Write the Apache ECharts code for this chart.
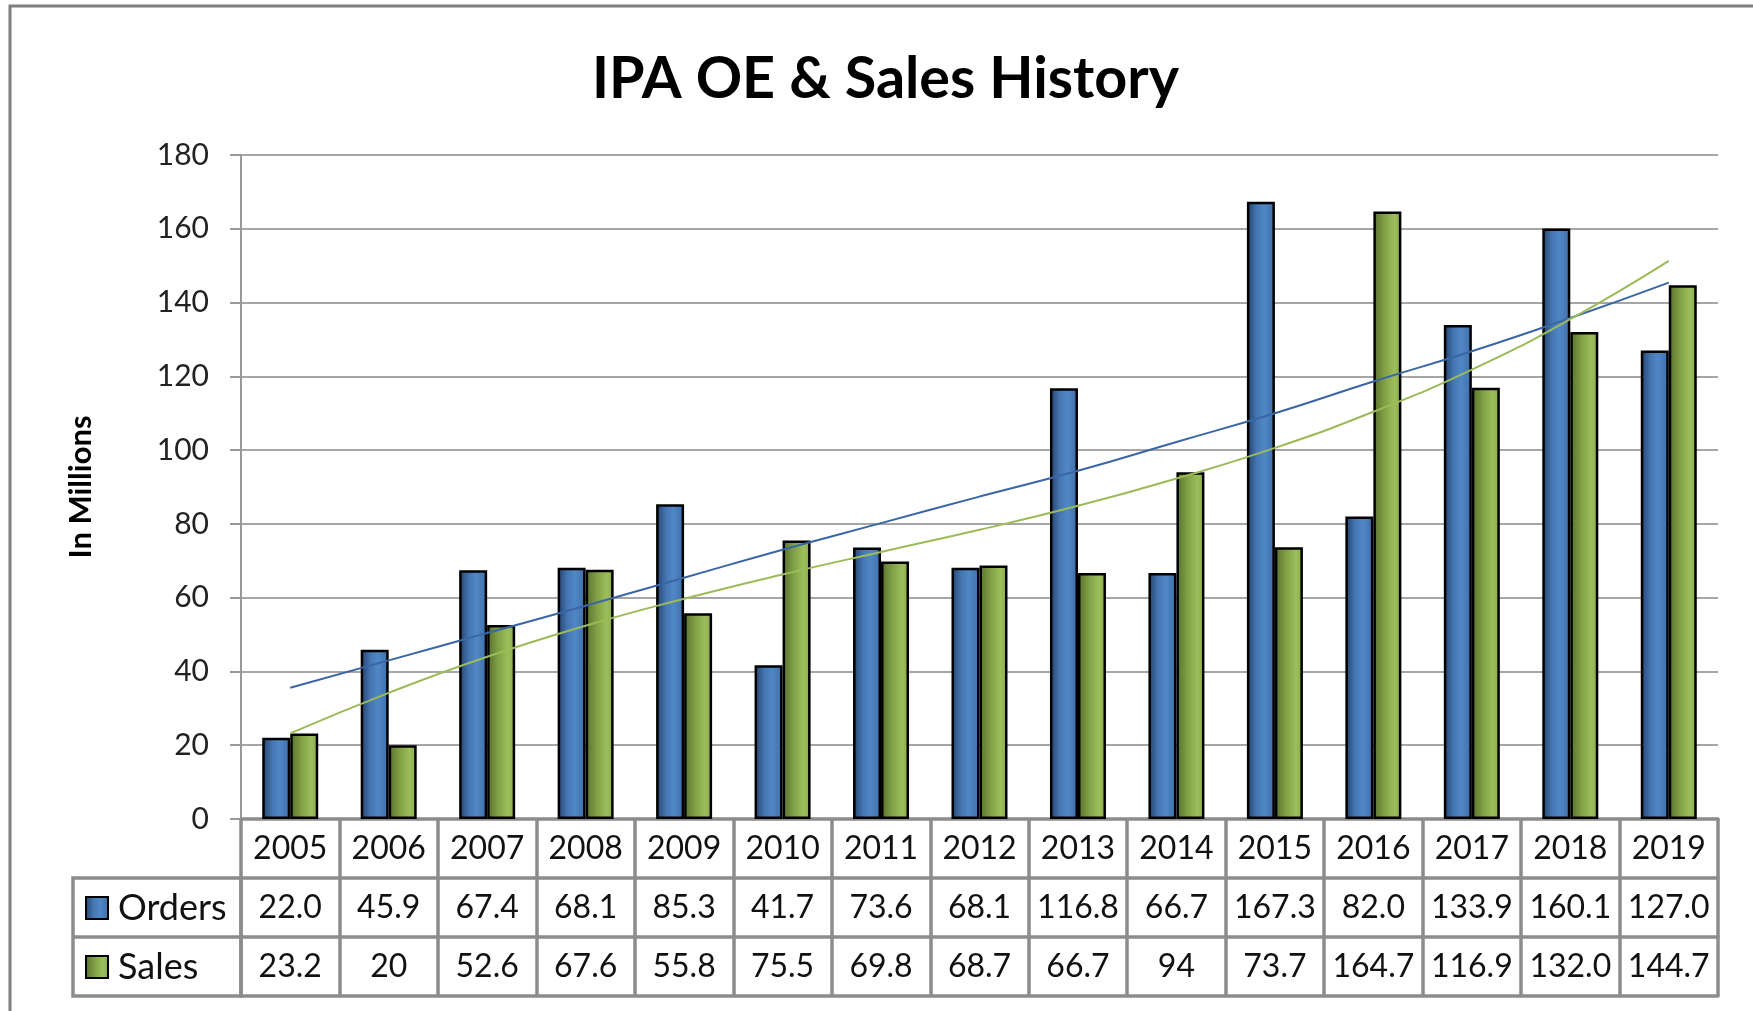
<!DOCTYPE html>
<html>
<head>
    <meta charset="utf-8">
    <title>IPA OE & Sales History</title>
    <script src="https://cdn.jsdelivr.net/npm/echarts@6/dist/echarts.min.js"></script>
    <style>
        html, body { margin: 0; padding: 0; background: #fff; }
    </style>
</head>
<body>
    <div id="main" style="width:1753px; height:1011px;"></div>
    <script>
        // data
        var years = ['2005', '2006', '2007', '2008', '2009', '2010', '2011', '2012', '2013', '2014', '2015', '2016', '2017', '2018', '2019']
        var orders = [22.0, 45.9, 67.4, 68.1, 85.3, 41.7, 73.6, 68.1, 116.8, 66.7, 167.3, 82.0, 133.9, 160.1, 127.0]
        var sales = [23.2, 20, 52.6, 67.6, 55.8, 75.5, 69.8, 68.7, 66.7, 94, 73.7, 164.7, 116.9, 132.0, 144.7]
        // table cell texts, as printed in the data table
        var ordersText = ['22.0', '45.9', '67.4', '68.1', '85.3', '41.7', '73.6', '68.1', '116.8', '66.7', '167.3', '82.0', '133.9', '160.1', '127.0']
        var salesText = ['23.2', '20', '52.6', '67.6', '55.8', '75.5', '69.8', '68.7', '66.7', '94', '73.7', '164.7', '116.9', '132.0', '144.7']
        // trend lines, read at each year
        var ordersTrend = [35.6, 43.0, 50.4, 57.8, 65.4, 73.0, 80.2, 87.4, 94.4, 102.2, 110.0, 118.6, 126.8, 135.8, 145.4]
        var salesTrend = [23.2, 34.2, 44.0, 52.4, 59.7, 66.3, 72.4, 78.4, 84.9, 92.3, 100.6, 110.4, 121.8, 135.5, 151.3]
        var yTicks = {min: 0, max: 180, interval: 20}

        var font = 'Lato'
        var tableGray = '#8c8c8c'
        var rowH = 59

        var blueFill = {
            type: 'linear', x: 0, y: 0, x2: 1, y2: 0,
            colorStops: [
                {offset: 0, color: '#23416a'},
                {offset: 0.35, color: '#4576b2'},
                {offset: 0.62, color: '#5087c6'},
                {offset: 1, color: '#3e6da7'}
            ]
        }
        var greenFill = {
            type: 'linear', x: 0, y: 0, x2: 1, y2: 0,
            colorStops: [
                {offset: 0, color: '#56702c'},
                {offset: 0.4, color: '#82a046'},
                {offset: 0.75, color: '#9dbe5c'},
                {offset: 1, color: '#8aa94b'}
            ]
        }

        var tableAxis = function(data, offset) {
            return {
                type: 'category',
                data: data,
                position: 'bottom',
                offset: offset,
                axisLine: {show: true, lineStyle: {color: tableGray, width: 3.5}},
                axisTick: {show: true, interval: 0, length: rowH, lineStyle: {color: tableGray, width: 3.5}},
                axisLabel: {
                    show: true, interval: 0, margin: rowH / 2, verticalAlign: 'middle',
                    fontFamily: font, fontSize: 32, color: '#111'
                },
                splitLine: {show: false}
            }
        }

        var legendRow = function(name, top) {
            return {
                data: [name], left: 85, top: top, icon: 'rect',
                itemWidth: 22, itemHeight: 22, padding: 0,
                textStyle: {fontFamily: font, fontSize: 36, color: '#111', padding: [0, 0, 0, 5]}
            }
        }

        var element = document.querySelector('#main')
        var myChart = echarts.init(element)

        var option = {
            backgroundColor: '#fff',
            animation: false,
            title: {
                text: 'IPA OE & Sales History',
                left: 592,
                top: 50,
                padding: 0,
                textStyle: {fontFamily: font, fontWeight: 'bold', fontSize: 57.5, color: '#000'}
            },
            legend: [
                legendRow('Orders', 890),
                legendRow('Sales', 949)
            ],
            grid: {left: 241, right: 35, top: 155, bottom: 192, containLabel: false, outerBoundsMode: 'none'},
            xAxis: [
                tableAxis(years, 0),
                tableAxis(ordersText, rowH),
                tableAxis(salesText, rowH * 2),
                {
                    type: 'category', data: years, position: 'bottom', offset: rowH * 3,
                    axisLine: {show: true, lineStyle: {color: tableGray, width: 3.5}},
                    axisTick: {show: false}, axisLabel: {show: false}, splitLine: {show: false}
                }
            ],
            yAxis: {
                type: 'value',
                min: yTicks.min, max: yTicks.max, interval: yTicks.interval,
                name: 'In Millions',
                nameLocation: 'middle',
                nameRotate: 90,
                nameGap: 145,
                nameTextStyle: {fontFamily: font, fontWeight: 'bold', fontSize: 31, color: '#000'},
                axisLine: {show: true, lineStyle: {color: '#999', width: 2}},
                axisTick: {show: true, length: 11, lineStyle: {color: '#999', width: 2}},
                axisLabel: {fontFamily: font, fontSize: 30, color: '#222', margin: 32},
                splitLine: {show: true, lineStyle: {color: '#a6a6a6', width: 2}}
            },
            series: [
                {
                    name: 'Orders', type: 'bar', data: orders, xAxisIndex: 0,
                    barWidth: 28, barGap: '0%',
                    itemStyle: {color: blueFill, borderColor: '#000', borderWidth: 2.5}
                },
                {
                    name: 'Sales', type: 'bar', data: sales, xAxisIndex: 0,
                    barWidth: 28, barGap: '0%',
                    itemStyle: {color: greenFill, borderColor: '#000', borderWidth: 2.5}
                },
                {
                    name: 'Orders trend', type: 'line', data: ordersTrend, xAxisIndex: 0,
                    symbol: 'none', smooth: true, z: 5,
                    lineStyle: {color: '#3a66a6', width: 2}
                },
                {
                    name: 'Sales trend', type: 'line', data: salesTrend, xAxisIndex: 0,
                    symbol: 'none', smooth: true, z: 5,
                    lineStyle: {color: '#9bbb59', width: 2}
                }
            ],
            graphic: [
                // outer chart frame
                {type: 'rect', shape: {x: 10, y: 6, width: 1900, height: 1200}, style: {fill: 'none', stroke: '#7f7f7f', lineWidth: 3}, silent: true},
                // legend column of the data table
                {type: 'rect', shape: {x: 73, y: 819 + rowH, width: 168, height: rowH * 2}, style: {fill: 'none', stroke: tableGray, lineWidth: 3.5}, silent: true},
                {type: 'line', shape: {x1: 73, y1: 819 + rowH * 2, x2: 241, y2: 819 + rowH * 2}, style: {stroke: tableGray, lineWidth: 3.5}, silent: true}
            ]
        }

        myChart.setOption(option)
    </script>
</body>
</html>
